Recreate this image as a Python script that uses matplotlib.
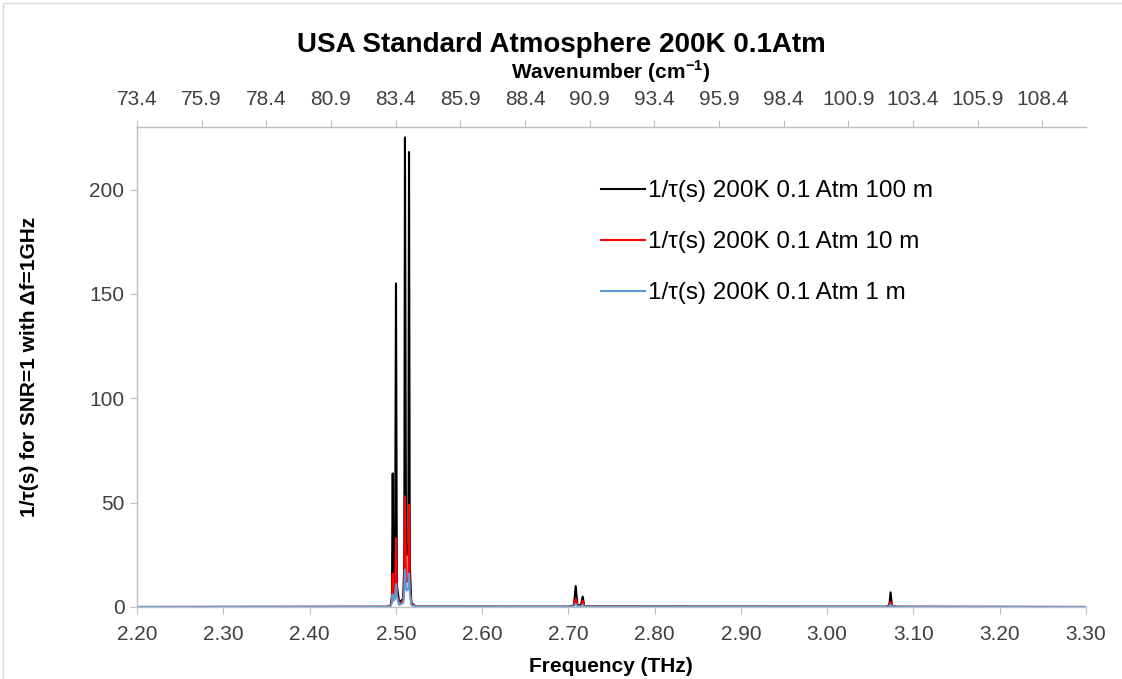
import numpy as np
import matplotlib
matplotlib.use("Agg")
import matplotlib.pyplot as plt
from matplotlib.patches import Rectangle

plt.rcParams['font.family'] = ['Liberation Sans', 'DejaVu Sans']
plt.rcParams['mathtext.fontset'] = 'custom'
plt.rcParams['mathtext.rm'] = 'Liberation Sans:bold'
plt.rcParams['mathtext.bf'] = 'Liberation Sans:bold'

# frequency points (THz) and 1/tau values for each path length
freq_thz = [2.200, 2.490, 2.494, 2.4955, 2.4964, 2.4973, 2.4990, 2.5002, 2.5012,
            2.5040, 2.5085, 2.5098, 2.5106, 2.5118, 2.5130, 2.5145, 2.5153, 2.5162,
            2.5180, 2.5230, 2.700, 2.7065, 2.7085, 2.7105, 2.7145, 2.7166, 2.7185,
            3.068, 3.0720, 3.0735, 3.0750, 3.080, 3.300]

inv_tau_100m = [0, 0.1, 0.8, 5, 64, 6, 8, 155, 10,
                2, 4, 20, 225, 30, 25, 30, 218, 20,
                2, 0.2, 0.1, 0.8, 10, 1, 0.8, 5, 0.3,
                0.1, 0.8, 7, 0.6, 0.1, 0]

inv_tau_10m = [0, 0.1, 0.6, 3, 16, 4, 5, 33, 6,
               1.5, 3, 10, 53, 14, 12, 14, 49, 10,
               1.5, 0.2, 0.1, 0.5, 4, 0.6, 0.5, 3, 0.2,
               0.1, 0.4, 2.5, 0.4, 0.1, 0]

inv_tau_1m = [0, 0.1, 0.4, 2, 6, 3, 4, 11, 5,
              1, 2, 7, 18, 9, 8, 9, 16, 7,
              1, 0.2, 0.1, 0.3, 1.5, 0.4, 0.3, 1, 0.2,
              0.1, 0.3, 1, 0.3, 0.1, 0]

labels = ["1/\u03c4(s) 200K 0.1 Atm 100 m",
          "1/\u03c4(s) 200K 0.1 Atm 10 m",
          "1/\u03c4(s) 200K 0.1 Atm 1 m"]
colors = ["black", "#FF0000", "#5B9BD5"]

THZ_TO_CM = 33.3564

x_ticks = [2.2 + 0.1*i for i in range(12)]
y_ticks = [0, 50, 100, 150, 200]
wn_ticks = [2.2*THZ_TO_CM + 2.5*i for i in range(15)]

W, H = 1122, 679
fig = plt.figure(figsize=(W/100, H/100), dpi=100)
ax = fig.add_axes([137/W, 1 - 607/H, (1086-137)/W, (607-127)/H])

for vals, lab, col in zip([inv_tau_100m, inv_tau_10m, inv_tau_1m], labels, colors):
    ax.plot(freq_thz, vals, color=col, lw=1.5, label=lab)

ax.set_xlim(2.2, 3.3)
ax.set_ylim(0, 230)
ax.set_xticks(x_ticks)
ax.set_xticklabels([f"{t:.2f}" for t in x_ticks])
ax.set_yticks(y_ticks)

grey = "#BFBFBF"
ax.spines["right"].set_visible(False)
for s in ["left", "bottom", "top"]:
    ax.spines[s].set_color(grey)
    ax.spines[s].set_linewidth(1)
ax.tick_params(axis="both", colors=grey, labelcolor="#404040", labelsize=15,
               length=5, direction="out")
ax.tick_params(axis="x", pad=8)
ax.tick_params(axis="y", pad=4)

secax = ax.secondary_xaxis("top", functions=(lambda f: f*THZ_TO_CM,
                                             lambda w: w/THZ_TO_CM))
secax.set_xticks(wn_ticks)
secax.set_xticklabels([f"{t:.1f}" for t in wn_ticks])
secax.tick_params(colors=grey, labelcolor="#404040", labelsize=15,
                  length=5, direction="out", pad=8)
secax.spines["top"].set_color(grey)

# titles and axis labels placed in figure pixels
fig.text(0.5, 1 - 45/H, "USA Standard Atmosphere 200K 0.1Atm", fontsize=20,
         fontweight="bold", ha="center", va="center")
fig.text(611/W, 1 - 72/H, r"Wavenumber (cm$^{-1}$)", fontsize=15,
         fontweight="bold", ha="center", va="center")
fig.text(611/W, 1 - 667/H, "Frequency (THz)", fontsize=15,
         fontweight="bold", ha="center", va="center")
fig.text(30/W, 1 - 367/H, "1/\u03c4(s) for SNR=1 with \u0394f=1GHz", fontsize=15,
         fontweight="bold", ha="center", va="center", rotation=90)

ax.legend(loc="upper left", bbox_to_anchor=(601/W, 1 - 180/H),
          bbox_transform=fig.transFigure, frameon=False, fontsize=17.5,
          handlelength=1.8, handletextpad=0.15, labelspacing=1.2,
          borderpad=0, borderaxespad=0)

fig.patches.append(Rectangle((3/W, -0.1), 1.2, 1 - 3/H + 0.1,
                             transform=fig.transFigure, fill=False,
                             edgecolor="#D9D9D9", lw=1))

fig.savefig("out.png", dpi=100)
